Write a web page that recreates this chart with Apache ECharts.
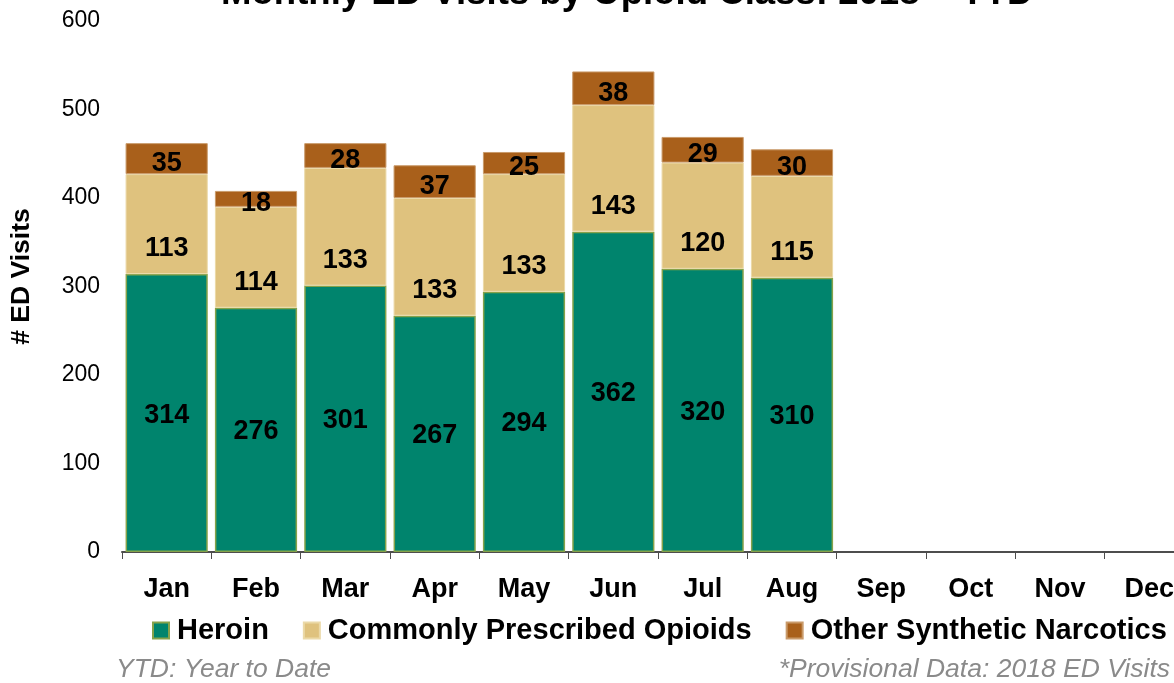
<!DOCTYPE html>
<html>
<head>
<meta charset="utf-8">
<script src="https://cdn.jsdelivr.net/npm/echarts@6/dist/echarts.min.js"></script>
<style>
html,body{margin:0;padding:0;background:#fff;}
#chart{width:1174px;height:683px;}
</style>
</head>
<body>
<div id="chart"></div>
<script>
var months = ['Jan','Feb','Mar','Apr','May','Jun','Jul','Aug','Sep','Oct','Nov','Dec'];
var heroin = [314, 276, 301, 267, 294, 362, 320, 310];
var prescribed = [113, 114, 133, 133, 133, 143, 120, 115];
var synthetic = [35, 18, 28, 37, 25, 38, 29, 30];
var seriesNames = ['Heroin', 'Commonly Prescribed Opioids', 'Other Synthetic Narcotics'];
var titleText = 'Monthly ED Visits by Opioid Class: 2018 \u2013 YTD';
var yAxisName = '# ED Visits';
var footLeft = 'YTD: Year to Date';
var footRight = '*Provisional Data: 2018 ED Visits';

var FONT = "'Liberation Sans', Arial, Helvetica, sans-serif";
var chart = echarts.init(document.getElementById('chart'), null, {renderer: 'canvas'});

var labelBase = {show: true, color: '#000', fontWeight: 'bold', fontSize: 27, fontFamily: FONT};

chart.setOption({
  animation: false,
  backgroundColor: '#fff',
  title: {
    text: titleText,
    left: 216,
    top: -30,
    textStyle: {fontSize: 36.6, fontWeight: 'bold', color: '#000', fontFamily: FONT}
  },
  legend: {
    data: seriesNames,
    left: 152,
    top: 616,
    width: 1022,
    padding: 0,
    itemWidth: 16,
    itemHeight: 16,
    itemGap: 34,
    icon: 'rect',
    textStyle: {fontSize: 29, fontWeight: 'bold', color: '#000', fontFamily: FONT, padding: [0, 0, 0, 3]}
  },
  grid: {left: 122, width: 1072, top: 21, bottom: 131, containLabel: false, outerBoundsMode: 'none'},
  xAxis: {
    type: 'category',
    data: months,
    axisLine: {lineStyle: {color: '#4d4d4d', width: 2}},
    axisTick: {show: true, length: 7, lineStyle: {color: '#4d4d4d', width: 1}},
    axisLabel: {fontSize: 27, fontWeight: 'bold', color: '#000', fontFamily: FONT, margin: 24, interval: 0}
  },
  yAxis: {
    type: 'value',
    min: 0,
    max: 600,
    interval: 100,
    name: yAxisName,
    nameLocation: 'middle',
    nameGap: 87,
    nameTextStyle: {fontSize: 26.5, fontWeight: 'bold', color: '#000', fontFamily: FONT, padding: [0, 0, 0, 20]},
    axisLine: {show: false},
    axisTick: {show: false},
    splitLine: {show: false},
    axisLabel: {fontSize: 23, color: '#000', fontFamily: FONT, margin: 22, padding: [4, 0, 0, 0]}
  },
  series: [
    {
      name: seriesNames[0],
      type: 'bar',
      stack: 'total',
      barCategoryGap: '8%',
      data: heroin,
      itemStyle: {color: '#00846D', borderColor: '#86A24A', borderWidth: 1.5},
      label: Object.assign({}, labelBase, {position: 'inside', offset: [0, 2]})
    },
    {
      name: seriesNames[1],
      type: 'bar',
      stack: 'total',
      data: prescribed,
      itemStyle: {color: '#DFC27E', borderColor: '#EBD9A8', borderWidth: 1},
      label: Object.assign({}, labelBase, {position: 'insideBottom', distance: 12})
    },
    {
      name: seriesNames[2],
      type: 'bar',
      stack: 'total',
      data: synthetic,
      itemStyle: {color: '#A9601B', borderColor: '#C99A6A', borderWidth: 1},
      label: Object.assign({}, labelBase, {position: 'inside', offset: [0, 5]})
    }
  ],
  graphic: [
    {type: 'text', left: 116, top: 656,
     style: {text: footLeft, font: 'italic 26.5px ' + FONT, fill: '#8a8a8a'}},
    {type: 'text', right: 4, top: 656,
     style: {text: footRight, font: 'italic 26.5px ' + FONT, fill: '#8a8a8a'}}
  ]
});
</script>
</body>
</html>
